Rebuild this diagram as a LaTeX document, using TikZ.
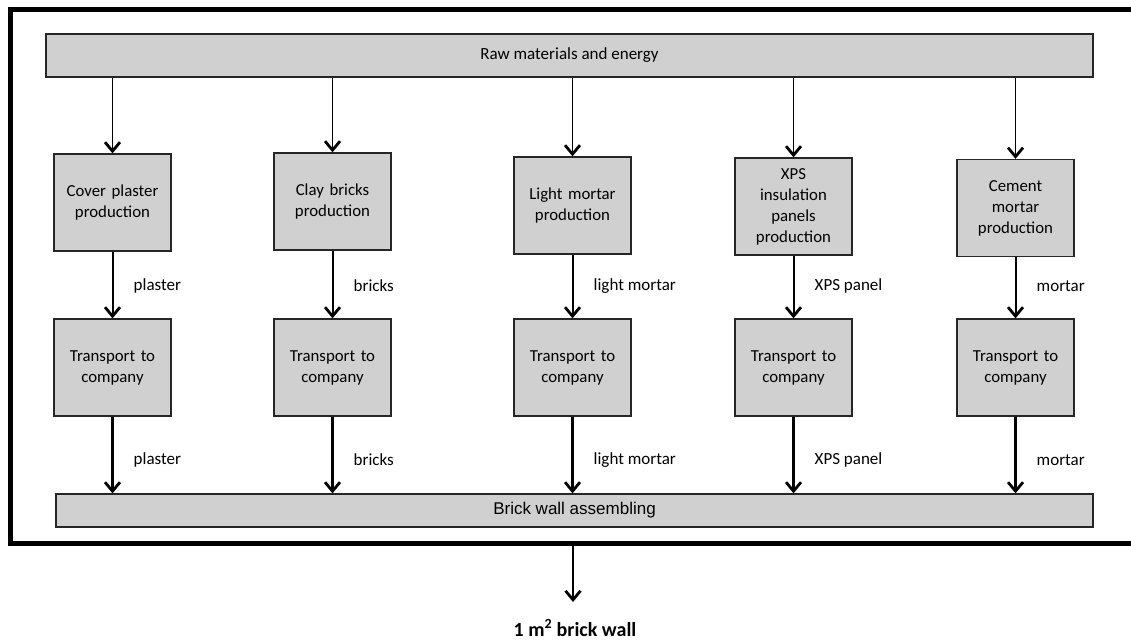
\documentclass[tikz,border=0pt]{standalone}
\usepackage{fontspec}
\setmainfont{Carlito}
\newfontfamily\arialfont{Liberation Sans}
\usetikzlibrary{positioning,arrows.meta}

\definecolor{boxgray}{HTML}{CFD0CF}
\definecolor{edgegray}{HTML}{262626}

\tikzset{
  procbox/.style={draw=edgegray, fill=boxgray, line width=1.3pt,
    minimum width=117pt, minimum height=97pt, text width=105pt,
    align=center, inner sep=0pt, font=\fontsize{16.8}{21}\selectfont},
  bar/.style={draw=edgegray, fill=boxgray, line width=1.3pt, inner sep=0pt},
  flow/.style={-{Straight Barb[length=9pt,width=15pt,line width=2.8pt]}, line width=2pt},
  flowlabel/.style={anchor=west, inner sep=0pt, font=\fontsize{17}{20}\selectfont}
}

\begin{document}
\begin{tikzpicture}[x=1pt, y=-1pt]
    \useasboundingbox (0,0) rectangle (1131,640);

    % System boundary
    \draw[line width=5pt, line cap=butt] (1131,9.5) -- (10.5,9.5) -- (10.5,543) -- (1131,543);

    % Input and assembly bars
    \node[bar, minimum width=1047pt, minimum height=43pt, font=\fontsize{17}{20}\selectfont]
        (raw) at (569.5,55.5) {Raw materials and energy};
    \node[bar, minimum width=1037pt, minimum height=33pt, font=\arialfont\fontsize{17}{20}\selectfont]
        (asm) at (574.5,510.5) {Brick wall assembling};

    % Production chains
    \foreach \i/\cx/\py/\ptext/\lbl in {
        1/112.5/202.5/{Cover plaster\\production}/plaster,
        2/332.5/201.5/{Clay bricks\\production}/bricks,
        3/572.5/205.5/{Light mortar\\production}/light mortar,
        4/793.5/206.5/{XPS\\insulation\\panels\\production}/XPS panel,
        5/1015.5/208/{Cement\\mortar\\production}/mortar} {
        \node[procbox] (p\i) at (\cx,\py) {\ptext};
        \node[procbox] (t\i) at (\cx,367.5) {Transport to\\company};

        \draw[flow, line width=1.7pt] (raw.south -| p\i.north) -- (p\i.north);
        \draw[flow] (p\i.south) -- (t\i.north);
        \draw[flow, line width=2.5pt] (t\i.south) -- (t\i.south |- asm.north);

        \node[flowlabel] (la\i) at (\cx+21,286) {\lbl};
        \node[flowlabel] (lb\i) at (\cx+21,460) {\lbl};
    }

    % Functional unit
    \coordinate (out) at (573,545.5);
    \node[font=\bfseries\fontsize{20}{24}\selectfont, inner sep=0pt] (unit) at (575,628) {1 m\textsuperscript{2} brick wall};
    \draw[flow, line width=2.8pt] (out) -- (573,602);
\end{tikzpicture}
\end{document}
